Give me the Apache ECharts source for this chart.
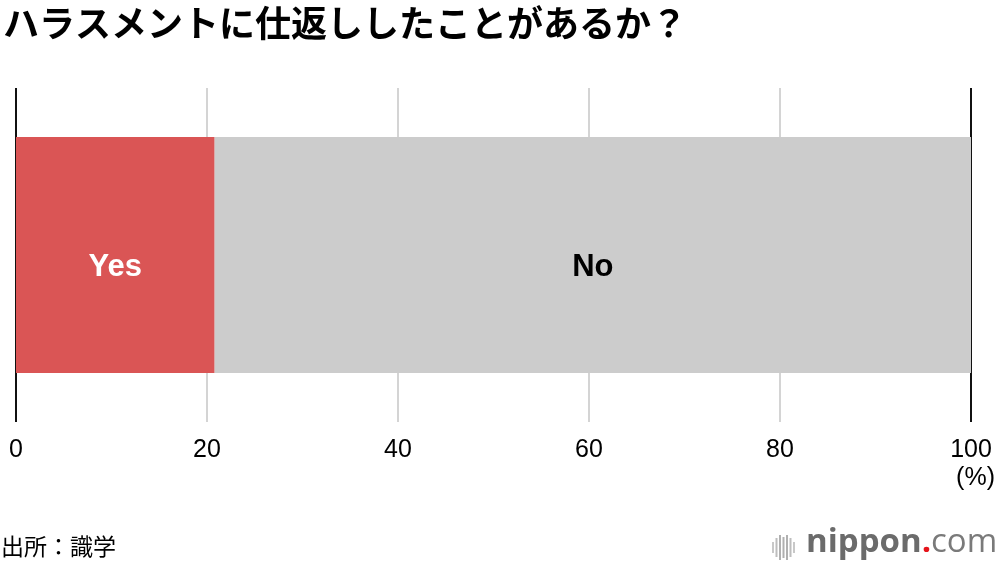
<!DOCTYPE html>
<html><head><meta charset="utf-8">
<script src="https://cdn.jsdelivr.net/npm/echarts@6/dist/echarts.min.js"></script>
<style>html,body{margin:0;padding:0;background:#fff}#c{width:1000px;height:570px}</style>
</head><body><div id="c"></div>
<script>
const categories = ['仕返し'];
const yesValues = [20.8];
const noValues = [79.2];
const tickLabels = ['0','20','40','60','80','100'];
const seriesNames = ['Yes','No'];

const chart = echarts.init(document.getElementById('c'));
const ff = '"Noto Sans CJK JP", "Noto Sans", sans-serif';
const lf = '"Liberation Sans", Arial, sans-serif';
chart.setOption({
  animation: false,
  title: {
    text: 'ハラスメントに仕返ししたことがあるか？',
    left: -2, top: 0,
    textStyle: { fontFamily: ff, fontSize: 36, fontWeight: 'bold', color: '#000' }
  },
  grid: { left: 16, right: 29, top: 88, bottom: 148 },
  xAxis: {
    type: 'value', min: 0, max: 100, interval: 20,
    axisLine: { show: false }, axisTick: { show: false },
    splitLine: { show: true, lineStyle: { color: ['#111','#d4d4d4','#d4d4d4','#d4d4d4','#d4d4d4','#111'], width: 2 } },
    axisLabel: {
      margin: 16, fontFamily: lf, fontSize: 25, color: '#000',
      formatter: v => tickLabels[Math.round(v / 20)]
    }
  },
  yAxis: {
    type: 'category', data: categories,
    axisLine: { show: false }, axisTick: { show: false }, axisLabel: { show: false }
  },
  series: [
    { name: seriesNames[0], type: 'bar', stack: 's', data: yesValues, barWidth: 236,
      itemStyle: { color: '#DA5555' },
      label: { show: true, position: 'inside', offset: [0, 12], formatter: seriesNames[0], color: '#fff',
        fontFamily: lf, fontWeight: 'bold', fontSize: 31 } },
    { name: seriesNames[1], type: 'bar', stack: 's', data: noValues, barWidth: 236,
      itemStyle: { color: '#CCCCCC' },
      label: { show: true, position: 'inside', offset: [0, 12], formatter: seriesNames[1], color: '#000',
        fontFamily: lf, fontWeight: 'bold', fontSize: 31 } }
  ],
  graphic: [
    { type: 'text', right: 5, top: 466, style: { text: '(%)', fontFamily: lf, fontSize: 25, fill: '#000' } },
    { type: 'text', left: 1, top: 535, style: { text: '出所：識学', fontFamily: ff, fontSize: 23, fill: '#000' } },
    { type: 'group', left: 772, top: 535, children: [
      { type: 'rect', shape: { x: 0, y: 7, width: 2, height: 11 }, style: { fill: '#c8c8c8' } },
      { type: 'rect', shape: { x: 3.5, y: 3, width: 2, height: 19 }, style: { fill: '#bdbdbd' } },
      { type: 'rect', shape: { x: 7, y: 0, width: 2, height: 25 }, style: { fill: '#b0b0b0' } },
      { type: 'rect', shape: { x: 10.5, y: 2, width: 2, height: 21 }, style: { fill: '#b0b0b0' } },
      { type: 'rect', shape: { x: 14, y: 0, width: 2, height: 25 }, style: { fill: '#b0b0b0' } },
      { type: 'rect', shape: { x: 17.5, y: 3, width: 2, height: 19 }, style: { fill: '#bdbdbd' } },
      { type: 'rect', shape: { x: 21, y: 7, width: 2, height: 11 }, style: { fill: '#c8c8c8' } }
    ]},
    { type: 'text', left: 806, top: 526, style: {
      text: '{a|nippon}{b|.}{c|com}',
      rich: {
        a: { fontFamily: '"Open Sans", sans-serif', fontWeight: 'bold', fontSize: 33, fill: '#6b6b6b' },
        b: { fontFamily: '"Open Sans", sans-serif', fontWeight: 'bold', fontSize: 33, fill: '#e5141b' },
        c: { fontFamily: '"Open Sans", sans-serif', fontWeight: 'normal', fontSize: 33, fill: '#7a7a7a' }
      }
    } }
  ]
});
</script></body></html>
